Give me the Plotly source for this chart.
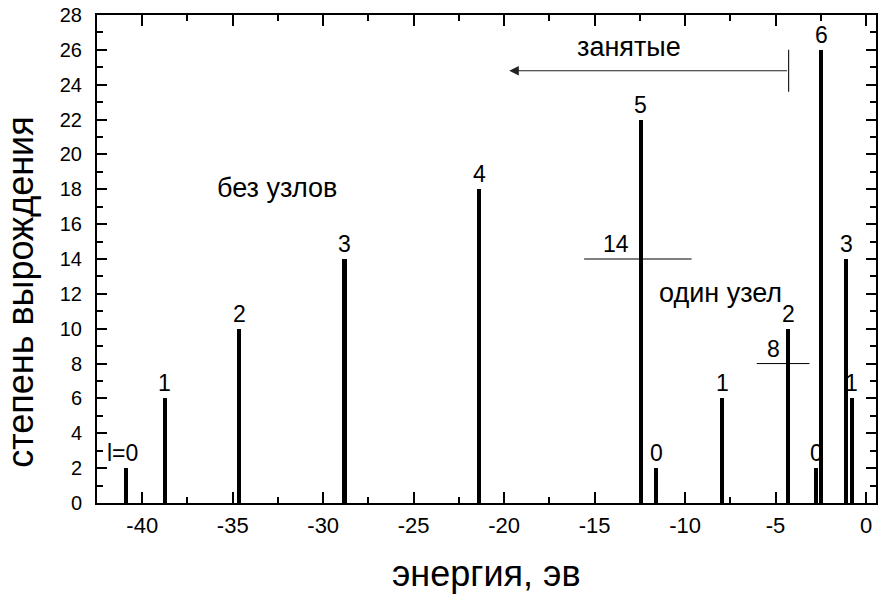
import plotly.graph_objects as go

# Energy levels (eV) and their degeneracies 2(2l+1), grouped by number of radial nodes
no_node_E = [-40.9, -38.75, -34.65, -28.82, -21.37, -12.45, -2.47]
no_node_g = [2, 6, 10, 14, 18, 22, 26]
no_node_l = ["l=0", "1", "2", "3", "4", "5", "6"]

one_node_E = [-11.59, -7.95, -4.31, -1.09]
one_node_g = [2, 6, 10, 14]
one_node_l = ["0", "1", "2", "3"]

two_node_E = [-2.75, -0.78]
two_node_g = [2, 6]
two_node_l = ["0", "1"]

# Axis ticks
x_ticks = [-40, -35, -30, -25, -20, -15, -10, -5, 0]
x_tick_text = ["-40", "-35", "-30", "-25", "-20", "-15", "-10", "-5", "0"]

# Cumulative filling markers: 14 and 8 states
fill_14 = dict(x0=-15.58, x1=-9.64, y=14)
fill_8 = dict(x0=-6.04, x1=-3.13, y=8)

# Occupied-states arrow
occ_right, occ_left, occ_y = -4.28, -19.72, 24.8
occ_tick = (23.6, 26.0)

FONT = "Arial, Liberation Sans, sans-serif"
W, H = 879, 594
L, R, T, B = 97, 1, 15, 91

fig = go.Figure()
for E, g in [(no_node_E, no_node_g), (one_node_E, one_node_g), (two_node_E, two_node_g)]:
    fig.add_trace(go.Bar(x=E, y=g, width=0.23, marker=dict(color="black", line=dict(width=0)),
                         showlegend=False, hoverinfo="x+y"))

ann = []
for E, g, lab in [(no_node_E, no_node_g, no_node_l), (one_node_E, one_node_g, one_node_l),
                  (two_node_E, two_node_g, two_node_l)]:
    for e, v, t in zip(E, g, lab):
        ann.append(dict(x=e, y=v, text=t, showarrow=False, yanchor="bottom", xanchor="center",
                        yshift=0, xshift=-3 if t.startswith("l") else 0,
                        font=dict(family=FONT, size=23, color="black")))

ann += [
    dict(x=-32.57, y=18.07, text="без узлов", showarrow=False, xanchor="center", yanchor="middle",
         font=dict(family=FONT, size=27, color="black")),
    dict(x=-8.03, y=12.05, text="один узел", showarrow=False, xanchor="center", yanchor="middle",
         font=dict(family=FONT, size=27, color="black")),
    dict(x=fill_14["x0"] + 1.75, y=fill_14["y"], text="14", showarrow=False, yanchor="bottom",
         xanchor="center", font=dict(family=FONT, size=23, color="black")),
    dict(x=fill_8["x0"] + 0.9, y=fill_8["y"], text="8", showarrow=False, yanchor="bottom",
         xanchor="center", font=dict(family=FONT, size=23, color="black")),
    dict(x=-13.1, y=26.18, text="занятые", showarrow=False, xanchor="center", yanchor="middle",
         font=dict(family=FONT, size=27, color="black")),
    dict(x=occ_left, y=occ_y, ax=occ_right, ay=occ_y, axref="x", ayref="y", xref="x", yref="y",
         text="", showarrow=True, arrowhead=2, arrowsize=1.6, arrowwidth=1.2, arrowcolor="#222"),
    dict(x=0.5, y=-0.145, xref="paper", yref="paper", text="энергия, эв", showarrow=False,
         xanchor="center", yanchor="middle", font=dict(family=FONT, size=36, color="black")),
    dict(x=-0.098, y=0.432, xref="paper", yref="paper", text="степень вырождения", showarrow=False,
         xanchor="center", yanchor="middle", textangle=-90,
         font=dict(family=FONT, size=36, color="black")),
]

shapes = [
    dict(type="line", x0=fill_14["x0"], x1=fill_14["x1"], y0=fill_14["y"], y1=fill_14["y"],
         line=dict(color="black", width=1)),
    dict(type="line", x0=fill_8["x0"], x1=fill_8["x1"], y0=fill_8["y"], y1=fill_8["y"],
         line=dict(color="black", width=1)),
    dict(type="line", x0=occ_right, x1=occ_right, y0=occ_tick[0], y1=occ_tick[1],
         line=dict(color="#222", width=1.2)),
]

fig.update_layout(
    width=W, height=H, margin=dict(l=L, r=R, t=T, b=B),
    paper_bgcolor="white", plot_bgcolor="white",
    annotations=ann, shapes=shapes, bargap=0,
    font=dict(family=FONT, color="black"),
    xaxis=dict(range=[-42.5, 0.55], tickmode="array", tickvals=x_ticks, ticktext=x_tick_text,
               ticks="inside", ticklen=11, tickwidth=1.5, tickcolor="black",
               minor=dict(dtick=2.5, tick0=0, ticks="inside", ticklen=6, tickwidth=1.5, tickcolor="black"),
               showline=True, linecolor="black", linewidth=2, mirror="ticks", ticklabelstandoff=2,
               showgrid=False, zeroline=False, tickfont=dict(family=FONT, size=22, color="black")),
    yaxis=dict(range=[0, 28], dtick=2, tick0=0,
               ticks="inside", ticklen=10, tickwidth=1.5, tickcolor="black",
               minor=dict(dtick=1, ticks="inside", ticklen=6, tickwidth=1.5, tickcolor="black"),
               showline=True, linecolor="black", linewidth=2, mirror="ticks", ticklabelstandoff=9,
               showgrid=False, zeroline=False, tickfont=dict(family=FONT, size=20, color="black")),
)

fig.write_html("out.html")
